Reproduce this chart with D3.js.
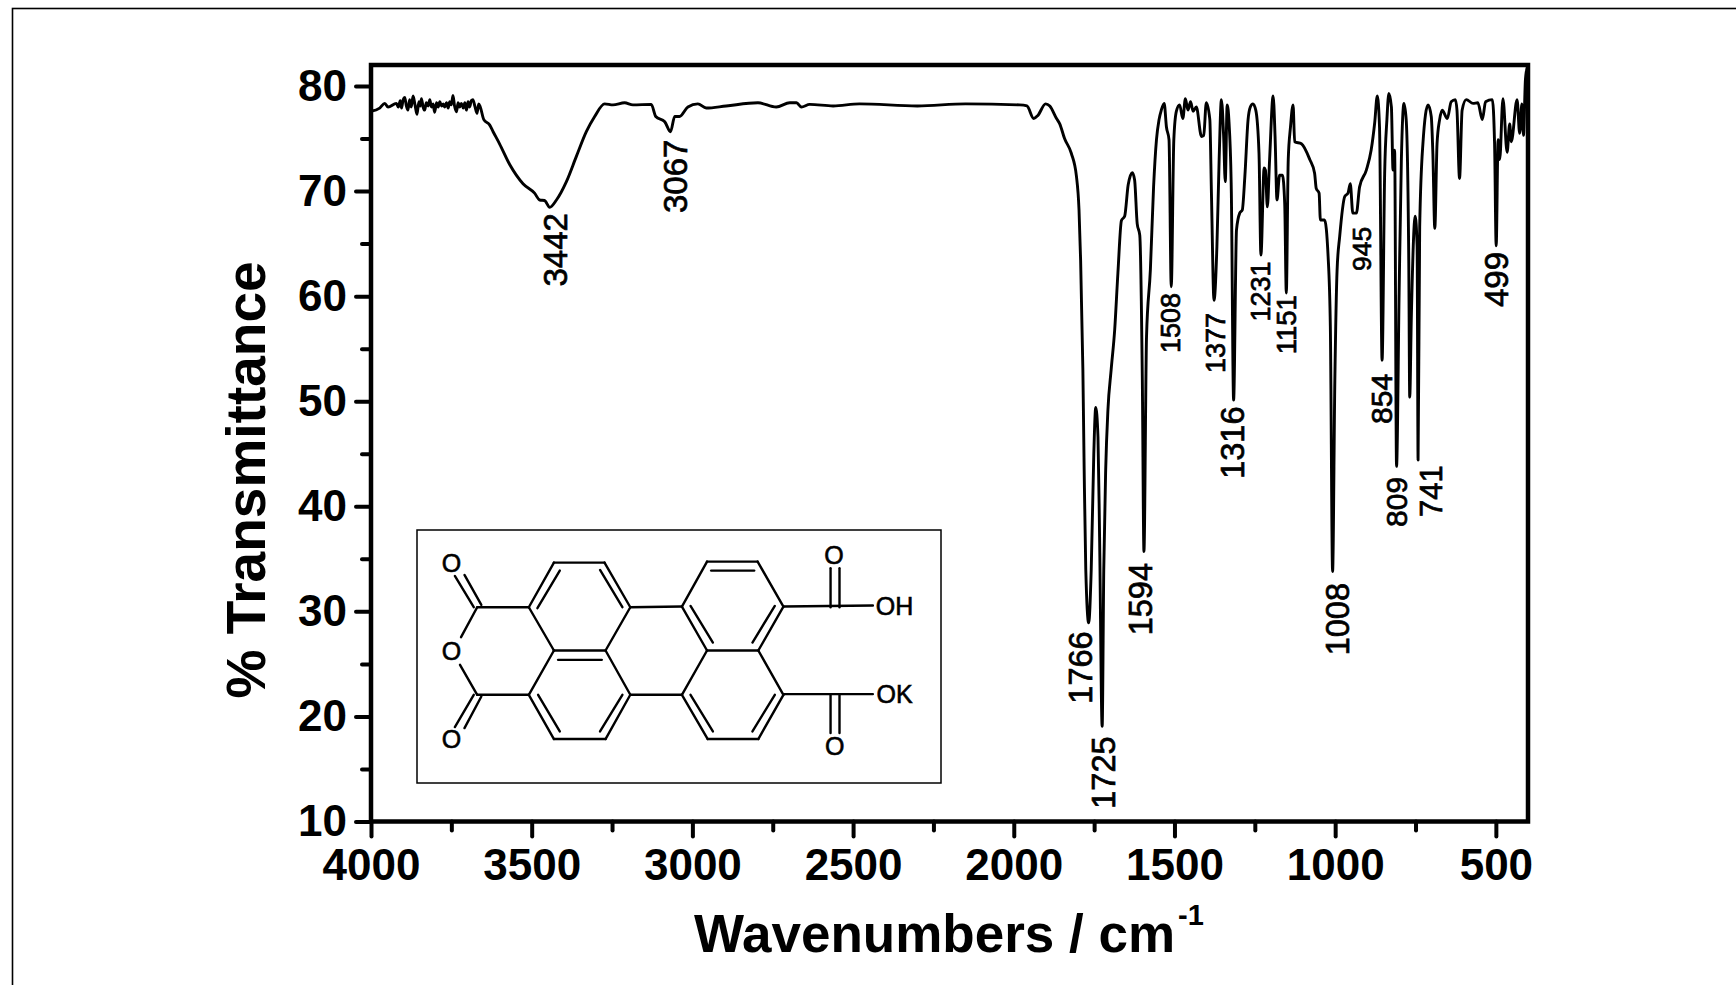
<!DOCTYPE html>
<html>
<head>
  <title>IR spectrum</title>
  <script src="https://d3js.org/d3.v7.min.js"></script>
  <style>
    html, body { margin: 0; padding: 0; background: #fff; overflow: hidden; }
    text { font-family: "Liberation Sans", Arial, sans-serif; fill: #000; }
  </style>
</head>

<body>
  <script>
    // spectrum
    const wavenumbers = [
      4000,3973,3957,3947,
      3921,3915,3909,3905,3900,3895,3890,3885,3880,3875,3869,3863,3857,3851,3847,3843,3838,3833,3828,3822,3817,3812,3807,3802,3796,3791,3786,3780,3775,3771,3765,3760,3755,3750,3745,3740,3734,3729,3724,3719,3713,3708,3703,3698,3693,3688,3683,3677,3670,3665,3660,
      3649,3631,3620,3600,3568,3527,3491,3475,3460,3444,3423,3392,3361,3330,3304,3273,3247,3211,3185,3128,3114,3086,3068,3055,3040,3014,2983,2957,2895,2796,2739,2697,2676,2661,2635,2562,2480,
      2300,2150,1982,1959,1938,1925,1901,1888,1867,1857,1842,1821,1805,1797,1792,1785,1781,1776,1767,1759,1751,1745,1738,1733,1725,1720,1714,1707,1697,1686,1676,1665,1655,1644,1631,1624,1616,1608,1600,1595,1587,1575,1565,1556,1548,1541,1532,1525,1517,1510,1502,1494,1484,1474,1466,1458,1450,1442,1432,1416,1409,1401,1390,1385,1377,1368,1361,1354,1347,1342,1336,1330,1323,1316,1307,1297,1289,1281,1271,1264,1256,1247,1237,1231,1221,1217,1211,1204,1193,1187,1181,1173,1164,1157,1152,1146,1139,1131,1126,1105,1079,1064,1059,1050,1046,1033,1022,1015,1008,1001,994,986,970,960,953,945,934,924,903,888,877,869,862,854,846,839,833,825,820,815,809,801,794,786,779,771,768,763,751,745,742,737,727,711,701,696,690,683,675,667,651,639,626,621,613,605,592,571,556,542,532,511,504,499,493,488,478,465,457,452,434,426,419,414,408,402,400
    ];
    const transmittance = [
      77.6,77.9,78.35,78,
      78.35,78,78.6,77.9,78.7,78.9,78.1,77.7,78.7,78,79.05,78.2,77.3,78.5,78.1,78.8,78,77.7,78.4,78.1,78.7,78,78.3,77.5,78.4,78,78.5,78.1,78.3,78,78.4,77.9,78.5,78.2,79.1,78.1,77.55,78.4,78,78.35,77.9,78.4,77.7,78.5,78,78.6,78.7,78.1,77.4,78.3,78,
      76.8,76.3,75.65,74.5,72.5,70.7,69.8,69.15,69.1,68.45,69.15,70.9,73.3,75.65,77.1,78.3,78.2,78.4,78.2,78.25,77.1,76.6,75.65,77.1,77.1,78,78.3,77.9,78.1,78.4,78,78.4,78.4,78,78.25,78.1,78.3,
      78.1,78.3,78.2,78.1,76.9,77.2,78.3,78.1,76.9,76.4,75,73.6,71.4,68.2,63.4,53,43.5,34,28.9,34,45,49.4,46.6,37.1,19.05,34,43.5,49.2,53,56.8,62.2,67.2,67.6,70.6,71.75,71.05,66.9,65.8,52,35.7,56.1,62.5,70.4,74.9,76.8,77.7,78.35,76.1,74.9,60.9,74.9,77.6,78.2,76.9,78.8,77.7,78.5,77.6,78,75.2,75.3,78.4,76.8,69.8,59.6,64.7,73,78.7,75.2,70.9,78.2,76.4,69.8,50.1,66.3,67.9,68.2,71.4,76.8,78,78.3,77.7,73.6,63.9,72.2,72,68.5,73,79.05,75.2,69.15,71.5,71.5,68.8,60.3,73,76.1,78.2,74.7,74.5,73,71.7,70.26,69.8,67.25,67.25,63.8,57.1,33.8,52,62.5,65.66,69.5,69.8,70.7,67.9,67.9,70.4,72,73.9,76.5,79.05,76.1,53.9,71.7,76.8,79.3,78,72,73.9,43.8,60.3,73,78.35,76.8,63.4,50.4,58,67.6,64.7,44.4,66.6,74.5,78.2,77.1,73.6,66.45,74.5,76.8,77.7,76.9,78.5,78.7,77.7,71.2,77.7,78.7,78.35,78.4,76.8,78.5,78.7,74.5,64.8,74.9,73,78.8,73.7,76.4,74.7,78.7,75.5,78.3,75.3,80.6,81.8,81.8
    ];

    // rotated peak labels: where each one sits (wavenumber of its centre, % at its top end)
    const peakNames = ["3442","3067","1508","1377","1231","1151","945","499","854","809","741","1316","1766","1725","1594","1008"];
    const peakX = [3426,3052,1512,1370,1230,1152,918,497,856,809,700,1319,1790,1720,1603,992];
    const peakTop = [67.9,74.9,60.3,58.4,63.3,60.1,66.6,64.2,52.6,42.8,43.9,49.5,28.1,18.1,34.6,32.7];
    const peakFont = [33,33,27,27,27,27.5,26.5,33,30,30,31,32.5,32.5,32.5,32.5,32.5];

    const xMajor = [4000,3500,3000,2500,2000,1500,1000,500];
    const xMinor = [3750,3250,2750,2250,1750,1250,750];
    const yMajor = [10,20,30,40,50,60,70,80];
    const yMinor = [15,25,35,45,55,65,75];

    const width = 1736, height = 985;
    const plotLeft = 371, plotRight = 1528, plotTop = 65, plotBottom = 821.5;

    const x = d3.scaleLinear().domain([4000, 400]).range([plotLeft, plotRight]);
    const y = d3.scaleLinear().domain([10, 80]).range([plotBottom, 86]);

    const svg = d3.select("body").append("svg")
      .attr("width", width)
      .attr("height", height);

    // thin frame round the whole figure
    svg.append("rect")
      .attr("x", 12.5).attr("y", 8.5)
      .attr("width", width + 20).attr("height", height + 20)
      .attr("fill", "none").attr("stroke", "#000").attr("stroke-width", 1.6);

    // spectrum
    const line = d3.line().x(d => x(d[0])).y(d => y(d[1])).curve(d3.curveMonotoneX);
    svg.append("path")
      .datum(wavenumbers.map((w, i) => [w, transmittance[i]]))
      .attr("d", line)
      .attr("fill", "none")
      .attr("stroke", "#000")
      .attr("stroke-width", 2.9)
      .attr("stroke-linejoin", "round");

    // axes
    function styleAxis(g) {
      g.select(".domain").remove();
      g.selectAll("line").attr("stroke", "#000").attr("stroke-width", 4).attr("stroke-linecap", "round");
      g.selectAll("text").attr("font-size", 44).attr("font-weight", "bold");
    }

    svg.append("g").attr("transform", `translate(0,${plotBottom})`)
      .call(d3.axisBottom(x).tickValues(xMajor).tickSize(15).tickPadding(12).tickFormat(d3.format("d")))
      .call(styleAxis);
    svg.append("g").attr("transform", `translate(0,${plotBottom})`)
      .call(d3.axisBottom(x).tickValues(xMinor).tickSize(9).tickFormat(""))
      .call(styleAxis);
    svg.append("g").attr("transform", `translate(${plotLeft},0)`)
      .call(d3.axisLeft(y).tickValues(yMajor).tickSize(15).tickPadding(9).tickFormat(d3.format("d")))
      .call(styleAxis);
    svg.append("g").attr("transform", `translate(${plotLeft},0)`)
      .call(d3.axisLeft(y).tickValues(yMinor).tickSize(9).tickFormat(""))
      .call(styleAxis);

    svg.append("rect")
      .attr("x", plotLeft).attr("y", plotTop)
      .attr("width", plotRight - plotLeft).attr("height", plotBottom - plotTop)
      .attr("fill", "none").attr("stroke", "#000").attr("stroke-width", 4.5);

    // axis titles
    svg.append("text")
      .attr("transform", `translate(265,${(260 + 700) / 2}) rotate(-90)`)
      .attr("text-anchor", "middle")
      .attr("font-size", 55).attr("font-weight", "bold")
      .text("% Transmittance");

    const xTitle = svg.append("text")
      .attr("x", 694).attr("y", 952)
      .attr("font-size", 53).attr("font-weight", "bold");
    xTitle.append("tspan").text("Wavenumbers / cm");
    xTitle.append("tspan").attr("font-size", 29).attr("dx", 3).attr("dy", -27).text("-1");

    // peak labels
    svg.selectAll(".peak")
      .data(peakNames)
      .enter()
      .append("text")
      .attr("class", "peak")
      .attr("transform", (d, i) => `translate(${x(peakX[i])},${y(peakTop[i])}) rotate(-90)`)
      .attr("text-anchor", "end")
      .attr("dominant-baseline", "central")
      .attr("font-size", (d, i) => peakFont[i])
      .attr("stroke", "#000").attr("stroke-width", 0.7)
      .text(d => d);

    // inset with the structure formula, coordinates in the units of a 1543 x 790 sketch
    const ix = d3.scaleLinear().domain([20, 1543]).range([417, 941]);
    const iy = d3.scaleLinear().domain([30, 790]).range([530, 783]);

    const bonds = [
      [195,262,345,262],[195,262,148,352],[145,435,195,525],[195,525,345,525],
      [185,262,130,168],[207,255,158,165],[185,525,130,622],[207,530,158,625],
      [345,262,418,128],[418,128,565,128],[565,128,640,262],[640,262,568,392],[568,392,418,392],[418,392,345,262],
      [370,265,435,152],[552,150,617,262],[430,420,557,420],
      [345,525,418,392],[568,392,640,525],[640,525,568,658],[568,658,418,658],[418,658,345,525],
      [372,525,435,635],[552,635,617,525],
      [640,262,790,260],[640,525,790,525],
      [790,260,863,125],[863,125,1010,125],[1010,125,1085,260],[1085,260,1012,392],[1012,392,863,392],[863,392,790,260],
      [875,152,1000,152],[815,258,880,368],[995,368,1060,258],
      [790,525,863,392],[1012,392,1085,525],[1085,525,1012,658],[1012,658,865,658],[865,658,790,525],
      [815,525,880,635],[995,635,1060,525],
      [1085,260,1345,257],[1222,262,1222,145],[1248,262,1248,145],
      [1085,523,1345,523],[1222,523,1222,640],[1248,525,1248,640]
    ];
    const atoms = [
      ["O",120,130],["O",120,392],["O",120,658],["O",1232,105],["O",1234,678],["OH",1408,258],["OK",1408,523]
    ];

    const inset = svg.append("g");
    inset.append("rect")
      .attr("x", ix(20)).attr("y", iy(30))
      .attr("width", ix(1543) - ix(20)).attr("height", iy(790) - iy(30))
      .attr("fill", "#fff").attr("stroke", "#000").attr("stroke-width", 1.5);
    inset.selectAll("line")
      .data(bonds)
      .enter()
      .append("line")
      .attr("x1", d => ix(d[0])).attr("y1", d => iy(d[1]))
      .attr("x2", d => ix(d[2])).attr("y2", d => iy(d[3]))
      .attr("stroke", "#000").attr("stroke-width", 2.4)
      .attr("stroke-linecap", "round");
    inset.selectAll("text")
      .data(atoms)
      .enter()
      .append("text")
      .attr("x", d => ix(d[1])).attr("y", d => iy(d[2]))
      .attr("text-anchor", "middle")
      .attr("dominant-baseline", "central")
      .attr("font-size", 25)
      .attr("stroke", "#000").attr("stroke-width", 0.6)
      .text(d => d[0]);
  </script>
</body>
</html>
